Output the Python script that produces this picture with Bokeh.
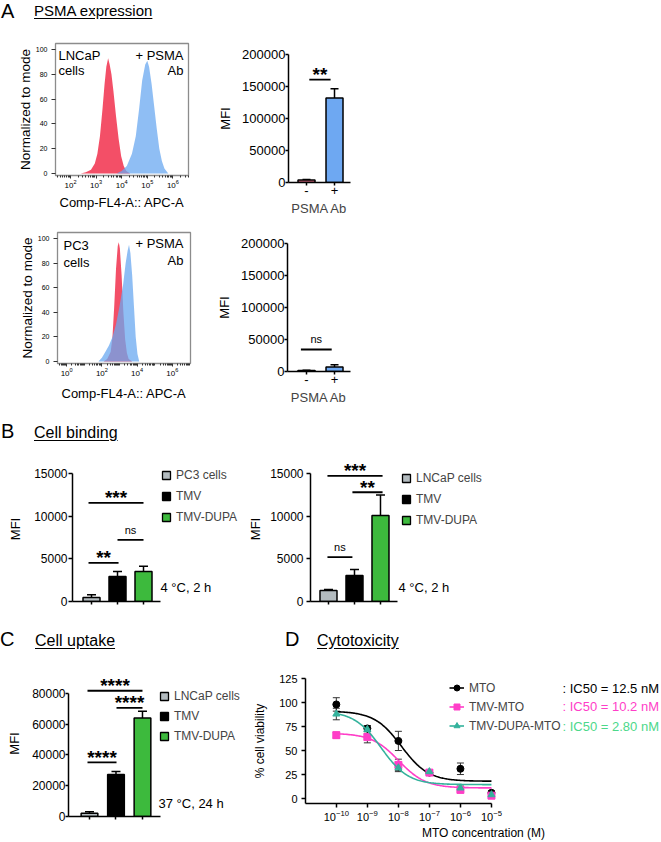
import numpy as np
from bokeh.plotting import figure
from bokeh.models import (Range1d, FixedTicker, ColumnDataSource, Whisker, TeeHead,
                          Label, Legend, LegendItem, Div, LogTickFormatter, BasicTickFormatter)
from bokeh.layouts import column, row
from bokeh.embed import file_html
from bokeh.resources import INLINE
from bokeh.core.properties import value

FONT = "Liberation Sans"

# ---------------- Panel A: flow histograms (x = log10 APC-A, y = % of mode) ----------------
lncap_ctrl_log = [2.40, 2.60, 2.80, 2.95, 3.05, 3.15, 3.25, 3.33, 3.40, 3.47, 3.53, 3.60, 3.68, 3.78, 3.88, 3.98, 4.08, 4.18, 4.33]
lncap_ctrl_pct = [0, 1, 3, 8, 16, 30, 52, 72, 86, 93, 88, 80, 66, 46, 28, 14, 6, 2, 0]
lncap_ab_log = [3.80, 4.00, 4.20, 4.40, 4.55, 4.68, 4.80, 4.92, 5.00, 5.07, 5.17, 5.27, 5.37, 5.47, 5.57, 5.67, 5.82]
lncap_ab_pct = [0, 2, 6, 16, 30, 52, 75, 88, 91, 86, 72, 54, 36, 20, 10, 4, 0]
pc3_ctrl_log = [2.10, 2.30, 2.50, 2.60, 2.70, 2.80, 2.90, 2.96, 3.02, 3.12, 3.22, 3.32, 3.42, 3.52, 3.72]
pc3_ctrl_pct = [0, 2, 8, 20, 45, 75, 94, 97, 92, 70, 40, 18, 7, 2, 0]
pc3_ab_log = [1.80, 2.00, 2.20, 2.40, 2.60, 2.80, 3.00, 3.20, 3.35, 3.46, 3.54, 3.62, 3.72, 3.82, 3.92, 4.02, 4.12]
pc3_ab_pct = [0, 3, 8, 13, 20, 30, 45, 62, 80, 90, 95, 88, 70, 45, 20, 6, 0]
hist_pct_ticks = [0, 20, 40, 60, 80, 100]

# ---------------- Panel A: MFI bars ----------------
psma_ab_labels = ["-", "+"]
lncap_psma_mfi = [4000, 132000]
lncap_psma_err = [500, 14500]
pc3_psma_mfi = [1500, 7000]
pc3_psma_err = [400, 3500]
a_mfi_ticks = [0, 50000, 100000, 150000, 200000]
lncap_sig_x0 = [0.1]
lncap_sig_x1 = [0.86]
lncap_sig_y = [160800]
lncap_sig_txt = ["**"]
pc3_sig_x0 = [-0.2]
pc3_sig_x1 = [0.9]
pc3_sig_y = [34400]
pc3_sig_txt = ["ns"]

# ---------------- Panel B: cell binding ----------------
b_pc3_groups = ["PC3 cells", "TMV", "TMV-DUPA"]
b_pc3_mfi = [480, 2930, 3510]
b_pc3_err = [300, 580, 620]
b_pc3_sig_x0 = [-0.115, 1.0, -0.115]
b_pc3_sig_x1 = [2.0, 2.0, 1.04]
b_pc3_sig_y = [11560, 7220, 4530]
b_pc3_sig_txt = ["***", "ns", "**"]

b_lncap_groups = ["LNCaP cells", "TMV", "TMV-DUPA"]
b_lncap_mfi = [1290, 3040, 10070]
b_lncap_err = [110, 710, 2420]
b_lncap_sig_x0 = [-0.04, 0.92, -0.04]
b_lncap_sig_x1 = [2.08, 2.08, 0.92]
b_lncap_sig_y = [14720, 12800, 5190]
b_lncap_sig_txt = ["***", "**", "ns"]
b_mfi_ticks = [0, 5000, 10000, 15000]

# ---------------- Panel C: cell uptake ----------------
c_groups = ["LNCaP cells", "TMV", "TMV-DUPA"]
c_mfi = [2140, 27270, 64090]
c_err = [900, 1930, 4290]
c_sig_x0 = [-0.075, 1.02, -0.075]
c_sig_x1 = [2.0, 2.0, 1.02]
c_sig_y = [81800, 70600, 35260]
c_sig_txt = ["****", "****", "****"]
c_mfi_ticks = [0, 20000, 40000, 60000, 80000]

bar_colors = ["#B3BBBF", "#000000", "#3DBA3D"]

# ---------------- Panel D: cytotoxicity ----------------
mto_conc = [1e-10, 1e-9, 1e-8, 1e-7, 1e-6, 1e-5]
mto_via = [98, 73, 60, 27, 31, 6]
mto_err = [7, 3, 10, 2, 6, 2]
tmv_mto_via = [66, 64, 35, 27, 9, 3]
tmv_mto_err = [3, 6, 6, 2, 1, 2]
dupa_mto_via = [88, 72, 32, 28, 11, 4]
dupa_mto_err = [6, 4, 4, 2, 2, 2]
d_names = ["MTO", "TMV-MTO", "TMV-DUPA-MTO"]
d_ic50_text = [": IC50 = 12.5 nM", ": IC50 = 10.2 nM", ": IC50 = 2.80 nM"]
# four-parameter logistic fit parameters of the curves
fit_top = [91, 68, 91]
fit_bottom = [18, 11, 14.5]
fit_ic50 = [12.5e-9, 10.2e-9, 2.80e-9]
fit_hill = [1.0, 1.0, 1.0]
d_via_ticks = [0, 25, 50, 75, 100, 125]
d_conc_ticks = [1e-10, 1e-9, 1e-8, 1e-7, 1e-6, 1e-5]

# ---------------- helpers ----------------
def mk_fig(width, height, left, top, fw, fh, xr, yr, x_type="linear"):
    p = figure(width=width, height=height, x_range=xr, y_range=yr, x_axis_type=x_type,
               output_backend="svg", toolbar_location=None, title=None,
               min_border_left=left, min_border_right=width - left - fw,
               min_border_top=top, min_border_bottom=height - top - fh)
    p.xgrid.visible = False
    p.ygrid.visible = False
    p.outline_line_color = None
    return p


def style_axis(ax, size, tick_out, std, label=None, label_size="13px", label_std=5,
               lw=1.5, color="black"):
    ax.axis_line_width = lw
    ax.axis_line_color = color
    ax.major_tick_line_width = lw
    ax.major_tick_line_color = color
    ax.major_tick_out = tick_out
    ax.major_tick_in = 0
    ax.minor_tick_out = 0
    ax.minor_tick_in = 0
    ax.major_label_text_font = FONT
    ax.major_label_text_font_size = size
    ax.major_label_text_color = "black"
    ax.major_label_standoff = std
    if label is not None:
        ax.axis_label = label
        ax.axis_label_text_font = FONT
        ax.axis_label_text_font_size = label_size
        ax.axis_label_text_font_style = "normal"
        ax.axis_label_text_color = "black"
        ax.axis_label_standoff = label_std


def add_label(p, x, y, text, size="13px", align="left", color="black"):
    p.add_layout(Label(x=x, y=y, x_units="screen", y_units="screen", text=text,
                       text_font=FONT, text_font_size=size, text_align=align,
                       text_baseline="middle", text_color=color))


HIST_RED = "#F2405A"
HIST_BLUE = "#6AA8F0"


def hist_panel(height, left, top, fh, x_lo, x_hi, y_lo, y_hi, majors, minors,
               ctrl_log, ctrl_pct, ab_log, ab_pct, xlab_std=4):
    p = mk_fig(205, height, left, top, 133, fh, Range1d(10 ** x_lo, 10 ** x_hi),
               Range1d(y_lo, y_hi), "log")
    p.outline_line_color = "#8c8c8c"
    p.outline_line_width = 1.3
    p.varea(x=[10 ** v for v in ctrl_log], y1=[0] * len(ctrl_pct), y2=ctrl_pct,
            fill_color=HIST_RED, fill_alpha=0.92)
    p.varea(x=[10 ** v for v in ab_log], y1=[0] * len(ab_pct), y2=ab_pct,
            fill_color=HIST_BLUE, fill_alpha=0.75)
    xa = p.xaxis[0]
    ya = p.yaxis[0]
    xa.ticker = FixedTicker(ticks=majors, minor_ticks=minors)
    xa.formatter = LogTickFormatter()
    style_axis(xa, "8px", 3, 1, "Comp-FL4-A:: APC-A", "13px", xlab_std, lw=1, color="#333333")
    xa.axis_line_color = None
    xa.minor_tick_out = 2
    xa.minor_tick_line_color = "#333333"
    ya.ticker = FixedTicker(ticks=hist_pct_ticks)
    style_axis(ya, "7px", 4, 4, "Normalized to mode", "13.5px", 0, lw=1, color="#333333")
    ya.axis_line_color = None
    return p


def add_sig(p, x0, x1, ys, txt, star_size="19px", star_off=-5, ns_off=-10):
    p.segment(x0=x0, y0=ys, x1=x1, y1=ys, line_color="black", line_width=1.8)
    mids = [(a + b) / 2 for a, b in zip(x0, x1)]
    st = [i for i, t in enumerate(txt) if t != "ns"]
    ns = [i for i, t in enumerate(txt) if t == "ns"]
    if st:
        p.text(x=[mids[i] for i in st], y=[ys[i] for i in st], text=[txt[i] for i in st],
               text_font=value(FONT), text_font_size=star_size, text_font_style="bold",
               text_align="center", text_baseline="middle", y_offset=star_off,
               text_color="black")
    if ns:
        p.text(x=[mids[i] for i in ns], y=[ys[i] for i in ns], text=[txt[i] for i in ns],
               text_font=value(FONT), text_font_size="11px", text_align="center",
               text_baseline="middle", y_offset=ns_off, text_color="black")


def bar_panel(width, height, left, top, fw, fh, xr, yr, vals, errs, fills, bar_w,
              yticks, ybound, ysize, ytick_out, ystd, ylab_std, cap, x_axis_end=None):
    p = mk_fig(width, height, left, top, fw, fh, Range1d(*xr), Range1d(*yr))
    centers = list(range(len(vals)))
    src = ColumnDataSource(dict(x=centers, top=vals,
                                upper=[v + e for v, e in zip(vals, errs)], color=fills))
    p.add_layout(Whisker(source=src, base="x", lower="top", upper="upper", dimension="height",
                         lower_head=None,
                         upper_head=TeeHead(size=cap, line_width=1.5, line_color="black"),
                         line_width=1.5, line_color="black"))
    p.vbar(x="x", top="top", bottom=0, width=bar_w, fill_color="color", line_color="black",
           line_width=1.5, source=src)
    ya = p.yaxis[0]
    ya.ticker = FixedTicker(ticks=yticks)
    ya.formatter = BasicTickFormatter(use_scientific=False)
    ya.bounds = (0, ybound)
    style_axis(ya, ysize, ytick_out, ystd, "MFI", "13px", ylab_std)
    xa = p.xaxis[0]
    xa.ticker = FixedTicker(ticks=centers)
    style_axis(xa, "13px", 3, 0)
    if x_axis_end is not None:
        xa.bounds = (xr[0], x_axis_end)
    return p, src


def square_legend(p, src, labels, vx, vy, spacing, standoff):
    # zero-size markers on the bar source: invisible in the plot, drawn as swatches by the legend
    proxy = p.scatter(x="x", y="top", source=src, marker="square", size=0,
                      fill_color="color", line_color="black", line_width=1.3)
    lg = Legend(items=[LegendItem(label=l, renderers=[proxy], index=i)
                       for i, l in enumerate(labels)],
                location=(vx, vy), orientation="vertical", glyph_width=20, glyph_height=20,
                label_height=20, spacing=spacing, label_standoff=standoff, padding=0, margin=0,
                border_line_color=None, background_fill_alpha=0,
                label_text_font=FONT, label_text_font_size="12px")
    p.add_layout(lg)


def title_div(height, parts):
    spans = []
    for (txt, x, y, fs, ul) in parts:
        deco = "text-decoration:underline;text-underline-offset:2px;" if ul else ""
        spans.append('<span style="position:absolute;left:%spx;top:%spx;font-size:%spx;%s">%s</span>'
                     % (x, y, fs, deco, txt))
    html = ('<div style="position:relative;width:661px;height:%dpx;'
            'font-family:\'Liberation Sans\',Arial,sans-serif;color:#000;white-space:nowrap;'
            'line-height:normal">%s</div>' % (height, "".join(spans)))
    return Div(text=html, width=661, height=height, margin=0)


def solo(p):
    # wrap a plot so that sibling plots in a row do not align their frames
    return column(p)


def psma_xaxis(p):
    xa = p.xaxis[0]
    xa.major_label_overrides = {i: t for i, t in enumerate(psma_ab_labels)}
    xa.axis_label = "PSMA Ab"
    xa.axis_label_text_font = FONT
    xa.axis_label_text_font_size = "13px"
    xa.axis_label_text_font_style = "normal"
    xa.axis_label_standoff = 3


# ---------------- Row A1 ----------------
h1_minors = [k * 10.0 ** n for n in range(1, 7) for k in range(2, 10)]
h1 = hist_panel(188, 55, 13, 132, 1.414, 6.61, -1.61, 104.84,
                [1e2, 1e3, 1e4, 1e5, 1e6], h1_minors,
                lncap_ctrl_log, lncap_ctrl_pct, lncap_ab_log, lncap_ab_pct)
add_label(h1, 3, 120, "LNCaP")
add_label(h1, 3, 105, "cells")
add_label(h1, 128, 120, "+ PSMA", align="right")
add_label(h1, 128, 105, "Ab", align="right")

a1, _ = bar_panel(155, 188, 83, 24, 62, 129, (-0.643, 1.571), (0, 200000),
                  lncap_psma_mfi, lncap_psma_err, ["#E8708A", "#6EA8F2"], 0.607,
                  a_mfi_ticks, 200000, "13px", 3, 0, 6, 8)
psma_xaxis(a1)
add_sig(a1, lncap_sig_x0, lncap_sig_x1, lncap_sig_y, lncap_sig_txt)

# ---------------- Row A2 ----------------
h2_majors = [1e0, 1e2, 1e4, 1e6]
h2_minors = [k * 10.0 ** n for n in range(-1, 7) for k in range(1, 10)
             if not (k == 1 and n % 2 == 0)]
h2 = hist_panel(200, 57, 14, 131, -0.52, 7.03, -1.63, 104.9, h2_majors, h2_minors,
                pc3_ctrl_log, pc3_ctrl_pct, pc3_ab_log, pc3_ab_pct, xlab_std=7)
add_label(h2, 6, 118, "PC3")
add_label(h2, 6, 101, "cells")
add_label(h2, 126, 120, "+ PSMA", align="right")
add_label(h2, 126, 103, "Ab", align="right")

a2, _ = bar_panel(155, 200, 82, 25, 63, 128, (-0.679, 1.571), (0, 200000),
                  pc3_psma_mfi, pc3_psma_err, ["#E8708A", "#6EA8F2"], 0.607,
                  a_mfi_ticks, 200000, "13px", 3, 0, 6, 8)
psma_xaxis(a2)
add_sig(a2, pc3_sig_x0, pc3_sig_x1, pc3_sig_y, pc3_sig_txt)

# ---------------- Row B ----------------
b1, b1_src = bar_panel(243, 180, 72, 8, 171, 145, (-0.731, 5.846), (0, 16992),
                       b_pc3_mfi, b_pc3_err, bar_colors, 0.654,
                       b_mfi_ticks, 15000, "12px", 4, 1, 8, 9, x_axis_end=2.654)
b1.xaxis[0].major_label_overrides = {0: "", 1: "", 2: ""}
add_sig(b1, b_pc3_sig_x0, b_pc3_sig_x1, b_pc3_sig_y, b_pc3_sig_txt)
square_legend(b1, b1_src, b_pc3_groups, 84, 74, 1, -1)
add_label(b1, 88, 14, "4 °C, 2 h")

b2, b2_src = bar_panel(418, 180, 67, 8, 210, 145, (-0.692, 7.385), (0, 16992),
                       b_lncap_mfi, b_lncap_err, bar_colors, 0.654,
                       b_mfi_ticks, 15000, "12px", 4, 3, 4, 9, x_axis_end=2.654)
b2.xaxis[0].major_label_overrides = {0: "", 1: "", 2: ""}
add_sig(b2, b_lncap_sig_x0, b_lncap_sig_x1, b_lncap_sig_y, b_lncap_sig_txt)
square_legend(b2, b2_src, b_lncap_groups, 86, 71, 1, -2)
add_label(b2, 88, 14, "4 °C, 2 h")

# ---------------- Row C / D ----------------
c1, c1_src = bar_panel(250, 184, 68, 12, 182, 146, (-0.792, 6.076), (0, 94959),
                       c_mfi, c_err, bar_colors, 0.63,
                       c_mfi_ticks, 80000, "12px", 3, 0, 7, 9, x_axis_end=2.679)
c1.xaxis[0].major_label_overrides = {0: "", 1: "", 2: ""}
add_sig(c1, c_sig_x0, c_sig_x1, c_sig_y, c_sig_txt)
square_legend(c1, c1_src, c_groups, 86, 70, 0, -1)
add_label(c1, 90, 13, "37 °C, 24 h")

d = mk_fig(411, 184, 53, 20, 358, 126, Range1d(10 ** -10.9936, 10 ** 0.4809),
           Range1d(-5.165, 125), "log")
d_colors = ["#000000", "#FF3EC8", "#33B29C"]
d_text_colors = ["#000000", "#FF3EC8", "#4CD88A"]
d_markers = ["circle", "square", "triangle"]
d_vals = [mto_via, tmv_mto_via, dupa_mto_via]
d_errs = [mto_err, tmv_mto_err, dupa_mto_err]
conc_grid = np.logspace(-10, -5, 160)
d_items = []
for i in range(3):
    curve = fit_bottom[i] + (fit_top[i] - fit_bottom[i]) / (
        1 + (conc_grid / fit_ic50[i]) ** fit_hill[i])
    lr = d.line(conc_grid, curve, line_color=d_colors[i], line_width=1.6)
    src = ColumnDataSource(dict(x=mto_conc, y=d_vals[i],
                                lo=[v - e for v, e in zip(d_vals[i], d_errs[i])],
                                hi=[v + e for v, e in zip(d_vals[i], d_errs[i])]))
    d.add_layout(Whisker(source=src, base="x", lower="lo", upper="hi", dimension="height",
                         lower_head=TeeHead(size=7, line_width=1, line_color="#333333"),
                         upper_head=TeeHead(size=7, line_width=1, line_color="#333333"),
                         line_width=1, line_color="#333333"))
    sr = d.scatter(x="x", y="y", source=src, marker=d_markers[i], size=7,
                   fill_color=d_colors[i], line_color=d_colors[i])
    d_items.append(LegendItem(label=d_names[i], renderers=[lr, sr]))
dlg = Legend(items=d_items, location=(144, 68), orientation="vertical", glyph_width=15,
             glyph_height=19, label_height=19, spacing=0, label_standoff=5, padding=0,
             margin=0, border_line_color=None, background_fill_alpha=0,
             label_text_font=FONT, label_text_font_size="12px")
d.add_layout(dlg)
for i, yy in enumerate([115, 97, 77]):
    add_label(d, 257, yy, d_ic50_text[i], size="13px", color=d_text_colors[i])
dx = d.xaxis[0]
dx.ticker = FixedTicker(ticks=d_conc_ticks)
dx.formatter = LogTickFormatter()
style_axis(dx, "11px", 4, 2, "MTO concentration (M)", "12px", 2)
dx.bounds = (10 ** -10.9936, 1e-5)
dy = d.yaxis[0]
dy.ticker = FixedTicker(ticks=d_via_ticks)
style_axis(dy, "11px", 4, 4, "% cell viability", "12px", 9)

# ---------------- titles ----------------
tA = title_div(30, [("A", 1, 0, 20, False), ("PSMA expression", 34, 2, 15, True)])
tB = title_div(30, [("B", 1, 2, 20, False), ("Cell binding", 34, 6, 16, True)])
tCD = title_div(30, [("C", 0, 0, 20, False), ("Cell uptake", 35, 4, 16, True),
                     ("D", 285, 0, 20, False), ("Cytotoxicity", 317, 4, 16, True)])

layout = column(tA, row(solo(h1), solo(a1)), row(solo(h2), solo(a2)), tB,
                row(solo(b1), solo(b2)), tCD, row(solo(c1), solo(d)))

open("out.html", "w").write(file_html(layout, INLINE))
